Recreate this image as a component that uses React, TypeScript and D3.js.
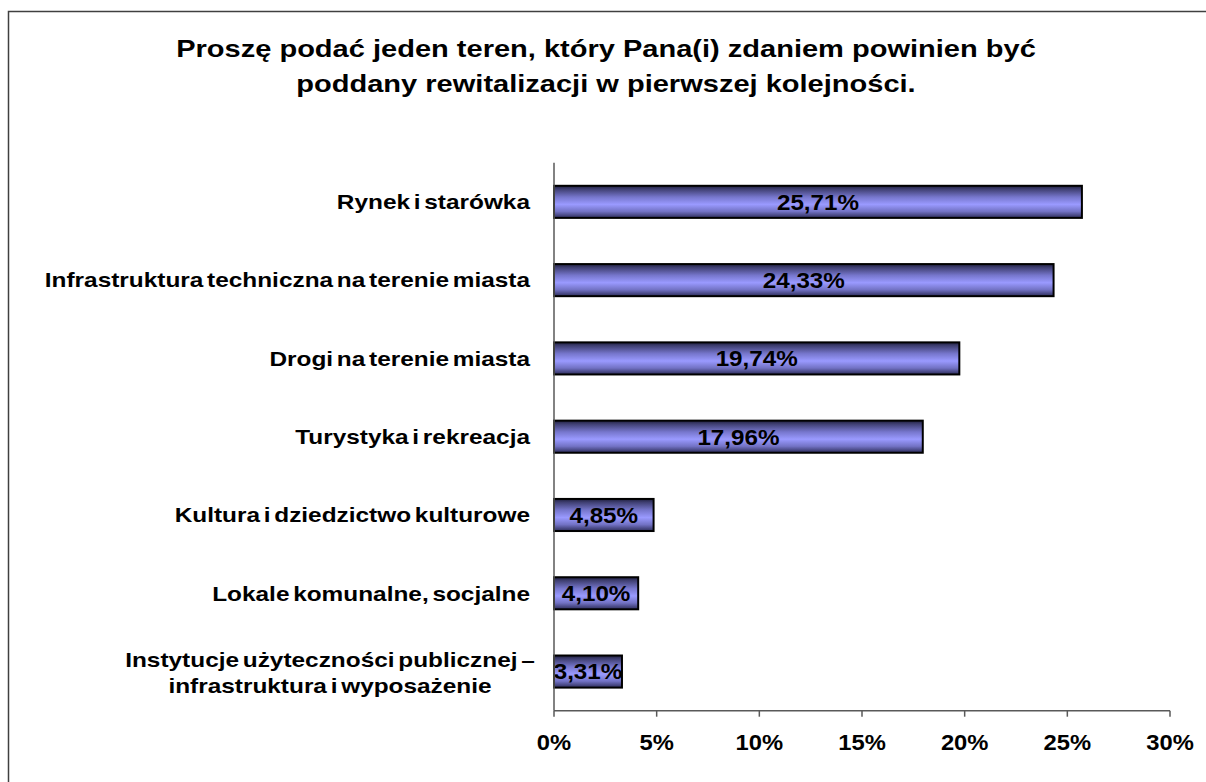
import React from 'react';
import * as d3 from 'd3';

const titleLines = [
  'Proszę podać jeden teren, który Pana(i) zdaniem powinien być',
  'poddany rewitalizacji w pierwszej kolejności.',
];
const categories = [
  ['Rynek i starówka'],
  ['Infrastruktura techniczna na terenie miasta'],
  ['Drogi na terenie miasta'],
  ['Turystyka i rekreacja'],
  ['Kultura i dziedzictwo kulturowe'],
  ['Lokale komunalne, socjalne'],
  ['Instytucje użyteczności publicznej –', 'infrastruktura i wyposażenie'],
];
const values = [25.71, 24.33, 19.74, 17.96, 4.85, 4.1, 3.31];
const valueLabels = ['25,71%', '24,33%', '19,74%', '17,96%', '4,85%', '4,10%', '3,31%'];
const tickValues = [0, 5, 10, 15, 20, 25, 30];
const tickLabels = ['0%', '5%', '10%', '15%', '20%', '25%', '30%'];

const FONT = '"Liberation Sans", Arial, sans-serif';

export default function App() {
  const keys = categories.map((c) => c.join(' '));
  const x = d3.scaleLinear().domain([0, 30]).range([554, 1170]);
  const y = d3
    .scaleBand<string>()
    .domain(keys)
    .range([162.7, 710.7])
    .paddingInner(0.59)
    .paddingOuter(0.295);
  const bw = y.bandwidth();
  const [x0] = x.range();
  const [yTop, yBot] = y.range();

  const stretched = (tx: number, ty: number, sx: number) => `translate(${tx},${ty}) scale(${sx},1)`;

  return (
    <svg
      width={1206}
      height={782}
      style={{ position: 'absolute', left: 0, top: 0, background: '#fff', overflow: 'hidden' }}
    >
      <defs>
        <linearGradient id="barGrad" x1="0" y1="0" x2="0" y2="1">
          <stop offset="0" stopColor="#1e1e3c" />
          <stop offset="0.1" stopColor="#3e3e70" />
          <stop offset="0.35" stopColor="#7676cc" />
          <stop offset="0.58" stopColor="#9a9aff" />
          <stop offset="0.8" stopColor="#7272c4" />
          <stop offset="1" stopColor="#2c2c58" />
        </linearGradient>
      </defs>
      <path d="M8.5,782 L8.5,11.5 L1206,11.5" fill="none" stroke="#404040" strokeWidth={1.5} />

      {titleLines.map((t, i) => (
        <text
          key={i}
          transform={stretched(606, 57 + i * 35, 1.21)}
          textAnchor="middle"
          fontFamily={FONT}
          fontWeight="bold"
          fontSize={24}
          fill="#000"
        >
          {t}
        </text>
      ))}

      {/* bars */}
      {values.map((v, i) => (
        <rect
          key={i}
          x={x0}
          y={y(keys[i])!}
          width={x(v) - x0}
          height={bw}
          fill="url(#barGrad)"
          stroke="#000"
          strokeWidth={2}
        />
      ))}

      {/* value labels */}
      {values.map((v, i) => (
        <text
          key={i}
          transform={stretched((x0 + x(v)) / 2, y(keys[i])! + bw / 2 + 7.8, 1.1)}
          textAnchor="middle"
          fontFamily={FONT}
          fontWeight="bold"
          fontSize={22}
          fill="#000"
        >
          {valueLabels[i]}
        </text>
      ))}

      {/* y axis */}
      <line x1={x0} x2={x0} y1={yTop} y2={yBot} stroke="#595959" strokeWidth={1.5} />
      {/* x axis */}
      <line x1={x0} x2={x(30)} y1={yBot} y2={yBot} stroke="#595959" strokeWidth={1.5} />
      {tickValues.map((t, i) => (
        <g key={i}>
          <line x1={x(t)} x2={x(t)} y1={yBot} y2={yBot + 6} stroke="#595959" strokeWidth={1.5} />
          <text
            transform={stretched(x(t), yBot + 39, 1.08)}
            textAnchor="middle"
            fontFamily={FONT}
            fontWeight="bold"
            fontSize={22}
            fill="#000"
          >
            {tickLabels[i]}
          </text>
        </g>
      ))}

      {/* category labels */}
      {categories.map((lines, i) => {
        const cy = y(keys[i])! + bw / 2;
        if (lines.length === 1) {
          return (
            <text
              key={i}
              transform={stretched(530, cy + 7.3, 1.22)}
              textAnchor="end"
              fontFamily={FONT}
              fontWeight="bold"
              fontSize={20}
              wordSpacing={-2.5}
              fill="#000"
            >
              {lines[0]}
            </text>
          );
        }
        return (
          <g key={i}>
            {lines.map((ln, j) => (
              <text
                key={j}
                transform={stretched(330, cy - 5 + j * 26, 1.22)}
                textAnchor="middle"
                fontFamily={FONT}
                fontWeight="bold"
                fontSize={20}
                wordSpacing={-2.5}
                fill="#000"
              >
                {ln}
              </text>
            ))}
          </g>
        );
      })}
    </svg>
  );
}
